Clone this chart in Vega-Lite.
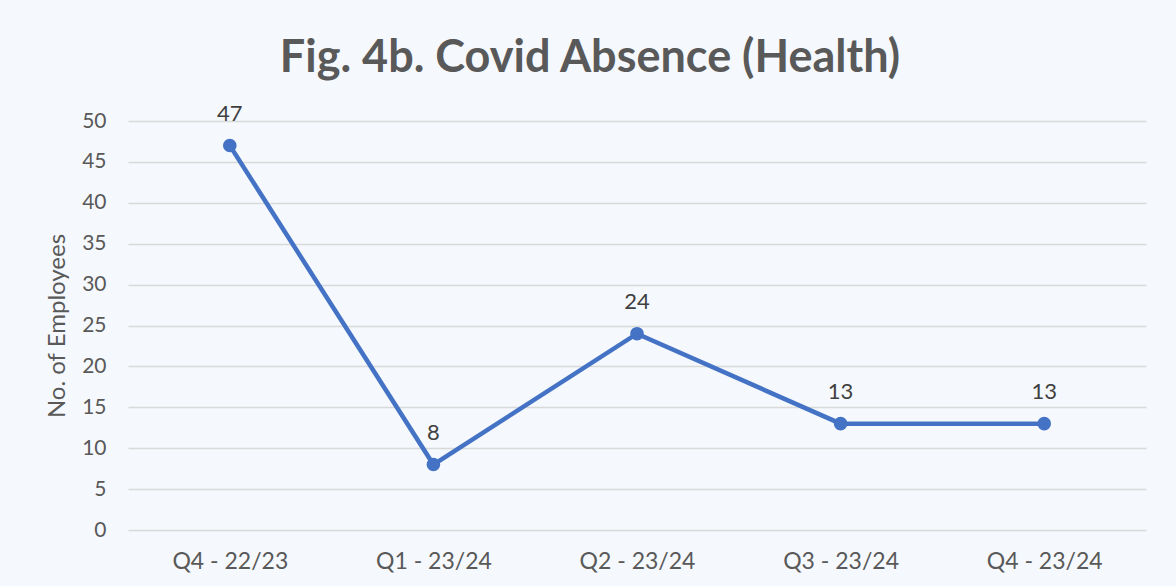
{
  "$schema": "https://vega.github.io/schema/vega-lite/v6.json",
  "width": 1018,
  "height": 409,
  "autosize": {"type": "none"},
  "padding": {"left": 128, "top": 121, "right": 30, "bottom": 56},
  "background": "#f5f8fc",
  "title": {
    "text": "Fig. 4b. Covid Absence (Health)",
    "font": "Lato",
    "fontSize": 45,
    "fontWeight": "bold",
    "color": "#595959",
    "anchor": "middle",
    "dx": -47,
    "offset": 22
  },
  "config": {
    "view": {"stroke": null},
    "font": "Lato"
  },
  "data": {
    "values": [
      {"quarter": "Q4 - 22/23", "employees": 47},
      {"quarter": "Q1 - 23/24", "employees": 8},
      {"quarter": "Q2 - 23/24", "employees": 24},
      {"quarter": "Q3 - 23/24", "employees": 13},
      {"quarter": "Q4 - 23/24", "employees": 13}
    ]
  },
  "encoding": {
    "x": {
      "field": "quarter",
      "type": "ordinal",
      "sort": null,
      "scale": {"paddingInner": 0, "paddingOuter": 0.5},
      "axis": {
        "title": null,
        "labelAngle": 0,
        "labelFontSize": 23,
        "labelColor": "#595959",
        "labelPadding": 20,
        "domain": false,
        "ticks": false,
        "grid": false
      }
    },
    "y": {
      "field": "employees",
      "type": "quantitative",
      "scale": {"domain": [0, 50], "nice": false},
      "axis": {
        "title": "No. of Employees",
        "titleFontSize": 24,
        "titleFontWeight": "normal",
        "titleColor": "#595959",
        "titlePadding": 12,
        "values": [0, 5, 10, 15, 20, 25, 30, 35, 40, 45, 50],
        "labelFontSize": 21,
        "labelColor": "#595959",
        "labelPadding": 22,
        "domain": false,
        "ticks": false,
        "gridColor": "#d9d9d9",
        "gridWidth": 1.5
      }
    }
  },
  "layer": [
    {
      "mark": {"type": "line", "color": "#4472c4", "strokeWidth": 4.5}
    },
    {
      "mark": {"type": "point", "filled": true, "color": "#4472c4", "size": 185, "opacity": 1}
    },
    {
      "mark": {"type": "text", "fontSize": 22, "color": "#404040", "dy": -32},
      "encoding": {"text": {"field": "employees", "type": "quantitative"}}
    }
  ]
}
